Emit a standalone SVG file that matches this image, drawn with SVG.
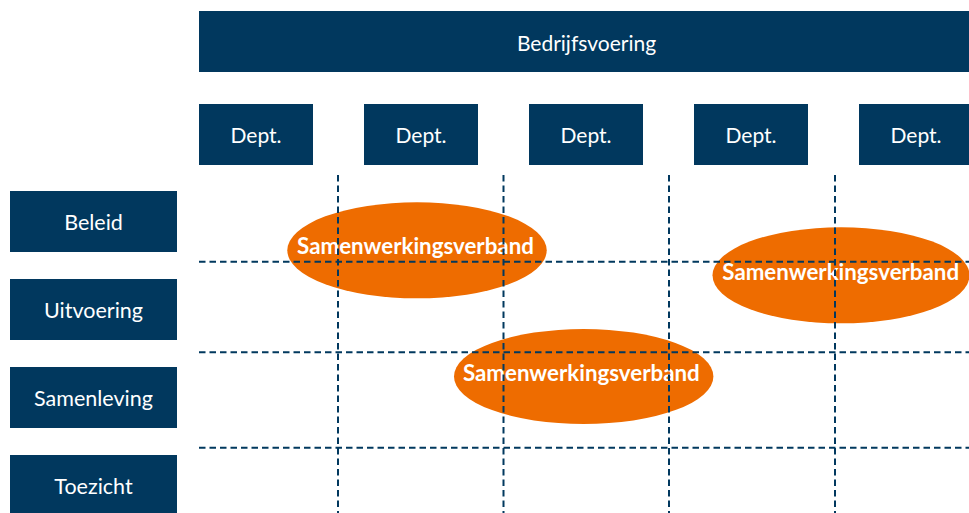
<svg xmlns="http://www.w3.org/2000/svg" width="969" height="513" viewBox="0 0 969 513">
<style>
.box{fill:#01385e}
.lbl{font-family:Lato,"Liberation Sans",sans-serif;font-size:21px;fill:#ffffff;text-anchor:middle}
.side{font-size:21.5px}
.ell{fill:#ee6c00}
.elbl{font-family:Lato,"Liberation Sans",sans-serif;font-size:22.3px;font-weight:bold;fill:#ffffff;text-anchor:middle}
.grid{stroke:#01385e;stroke-width:2;stroke-dasharray:6.5 4;fill:none}
</style>
<rect width="969" height="513" fill="#ffffff"/>
<g id="bedrijfsvoering"><rect class="box" x="199" y="11" width="775" height="61"/><text class="lbl" x="586.5" y="51">Bedrijfsvoering</text></g>
<g id="dept1"><rect class="box" x="199" y="104" width="114" height="61"/><text class="lbl" x="256" y="143">Dept.</text></g>
<g id="dept2"><rect class="box" x="364" y="104" width="114" height="61"/><text class="lbl" x="421" y="143">Dept.</text></g>
<g id="dept3"><rect class="box" x="529" y="104" width="114" height="61"/><text class="lbl" x="586" y="143">Dept.</text></g>
<g id="dept4"><rect class="box" x="694" y="104" width="114" height="61"/><text class="lbl" x="751" y="143">Dept.</text></g>
<g id="dept5"><rect class="box" x="859" y="104" width="114" height="61"/><text class="lbl" x="916" y="143">Dept.</text></g>
<g id="beleid"><rect class="box" x="10" y="191" width="167" height="61"/><text class="lbl side" x="93.5" y="230">Beleid</text></g>
<g id="uitvoering"><rect class="box" x="10" y="279" width="167" height="61"/><text class="lbl side" x="93.5" y="318">Uitvoering</text></g>
<g id="samenleving"><rect class="box" x="10" y="367" width="167" height="61"/><text class="lbl side" x="93.5" y="406">Samenleving</text></g>
<g id="toezicht"><rect class="box" x="10" y="455" width="167" height="61"/><text class="lbl side" x="93.5" y="494">Toezicht</text></g>
<g id="samenwerking1"><ellipse class="ell" cx="417" cy="250.3" rx="129.7" ry="48"/><text class="elbl" x="415.5" y="254">Samenwerkingsverband</text></g>
<g id="samenwerking2"><ellipse class="ell" cx="841" cy="275.3" rx="128.5" ry="48"/><text class="elbl" x="840.7" y="280">Samenwerkingsverband</text></g>
<g id="samenwerking3"><ellipse class="ell" cx="583.7" cy="376.5" rx="129.7" ry="47.5"/><text class="elbl" x="581.3" y="381">Samenwerkingsverband</text></g>
<g id="connectors">
<line class="grid" x1="338" y1="175" x2="338" y2="513"/>
<line class="grid" x1="503.5" y1="175" x2="503.5" y2="513"/>
<line class="grid" x1="669" y1="175" x2="669" y2="513"/>
<line class="grid" x1="835" y1="175" x2="835" y2="513"/>
<line class="grid" x1="199" y1="261.7" x2="969" y2="261.7"/>
<line class="grid" x1="199" y1="352.3" x2="969" y2="352.3"/>
<line class="grid" x1="199" y1="447.7" x2="969" y2="447.7"/>
</g>
</svg>
